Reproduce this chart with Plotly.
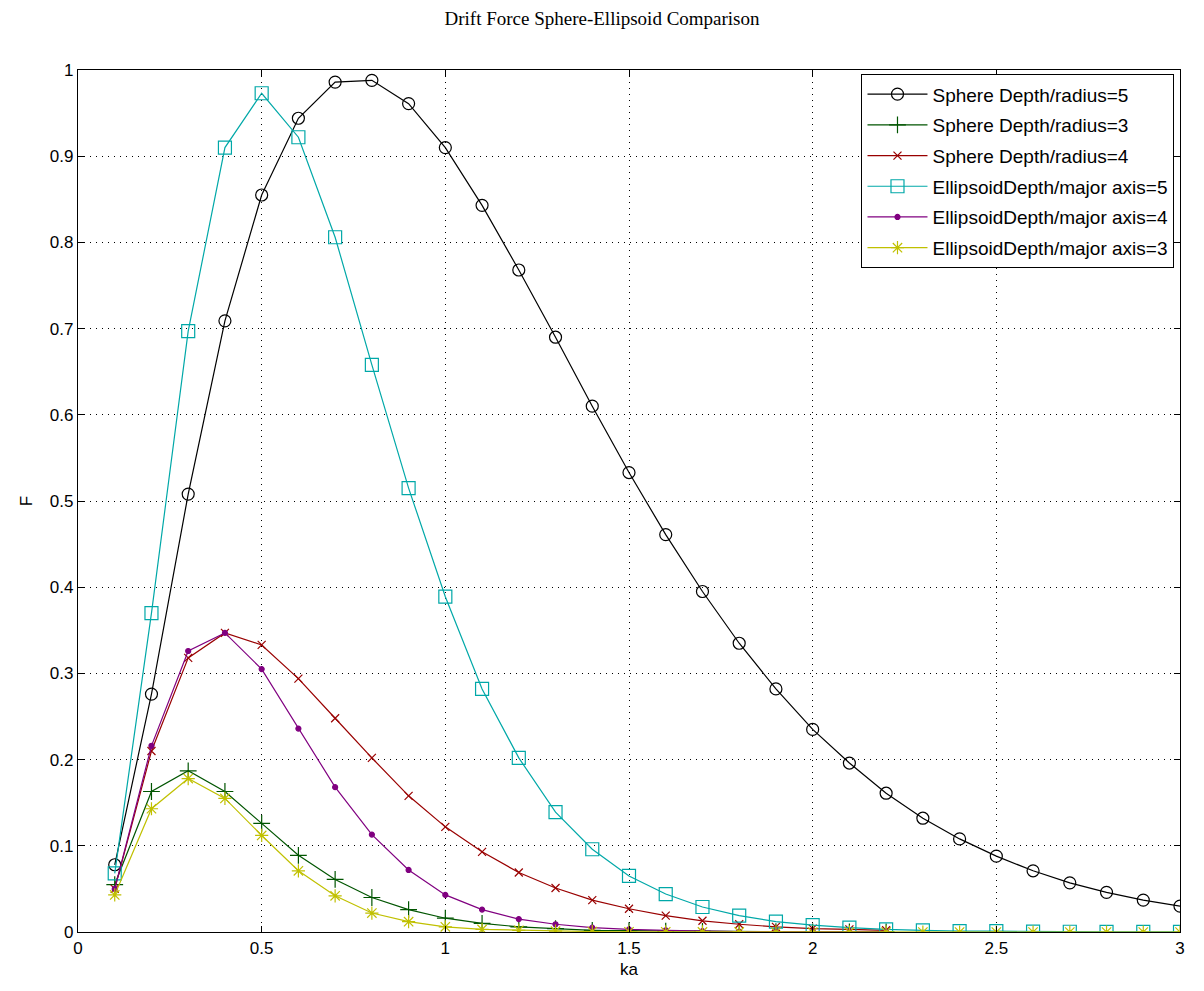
import plotly.graph_objects as go

ka = [round(0.1 * i, 1) for i in range(1, 31)]
ka_short = ka[:22]

sphere5 = [0.078, 0.276, 0.508, 0.709, 0.855, 0.944, 0.986, 0.988, 0.961, 0.910,
           0.843, 0.768, 0.690, 0.610, 0.533, 0.461, 0.395, 0.335, 0.282, 0.235,
           0.196, 0.161, 0.132, 0.108, 0.088, 0.071, 0.057, 0.046, 0.037, 0.030]
sphere3 = [0.055, 0.163, 0.187, 0.163, 0.126, 0.089, 0.061, 0.040, 0.026, 0.016,
           0.010, 0.006, 0.004, 0.002, 0.0015, 0.001, 0.0007, 0.0005, 0.0003, 0.0002,
           0.0001, 0.0001]
sphere4 = [0.050, 0.210, 0.318, 0.347, 0.333, 0.294, 0.248, 0.202, 0.158, 0.122,
           0.093, 0.069, 0.051, 0.037, 0.027, 0.019, 0.013, 0.009, 0.006, 0.004,
           0.003, 0.002]
ell5 = [0.068, 0.370, 0.697, 0.910, 0.973, 0.922, 0.806, 0.658, 0.515, 0.389,
        0.282, 0.202, 0.139, 0.096, 0.065, 0.044, 0.029, 0.019, 0.012, 0.008,
        0.005, 0.003, 0.002, 0.001, 0.001, 0.0005, 0.0003, 0.0002, 0.0001, 0.0001]
ell4 = [0.050, 0.216, 0.326, 0.347, 0.305, 0.236, 0.168, 0.113, 0.072, 0.043,
        0.026, 0.015, 0.009, 0.005, 0.003, 0.002, 0.001, 0.0006, 0.0004, 0.0002,
        0.0001, 0.0001]
ell3 = [0.043, 0.143, 0.178, 0.155, 0.112, 0.071, 0.042, 0.022, 0.012, 0.006,
        0.003, 0.002, 0.001, 0.0005, 0.0003, 0.0002, 0.0001, 0.0001, 0.0, 0.0,
        0.0, 0.0, 0.0, 0.0, 0.0, 0.0, 0.0, 0.0, 0.0, 0.0]

names = ["Sphere Depth/radius=5", "Sphere Depth/radius=3", "Sphere Depth/radius=4",
         "EllipsoidDepth/major axis=5", "EllipsoidDepth/major axis=4",
         "EllipsoidDepth/major axis=3"]

series = [
    (ka, sphere5, "#000000", "circle-open", 12),
    (ka_short, sphere3, "#005500", "cross-thin-open", 12),
    (ka_short, sphere4, "#990000", "x-thin-open", 8),
    (ka, ell5, "#00A8A8", "square-open", 13),
    (ka_short, ell4, "#800080", "circle", 5),
    (ka, ell3, "#C0C000", "asterisk-open", 11),
]

fig = go.Figure()
for i, ((x, y, c, sym, sz), nm) in enumerate(zip(series, names)):
    fig.add_trace(go.Scatter(
        x=x, y=y, name=nm, mode="lines+markers", legendgroup=f"g{i}",
        line=dict(color=c, width=1.2),
        marker=dict(symbol=sym, size=sz, color=c, line=dict(color=c, width=1.2)),
    ))

axis_common = dict(
    showline=True, linecolor="black", linewidth=1.2, mirror="ticks",
    ticks="inside", ticklen=6, tickcolor="black",
    showgrid=True, gridcolor="black", griddash="1px,5px", gridwidth=1,
    zeroline=False,
    tickfont=dict(family="Liberation Sans, Arial", size=17, color="black"),
)

fig.update_xaxes(range=[0, 3], dtick=0.5, tickformat="~g",
                 title=dict(text="ka", font=dict(family="Liberation Sans, Arial", size=17, color="black"), standoff=6),
                 **axis_common)
fig.update_yaxes(range=[0, 1], dtick=0.1, tickformat="~g",
                 title=dict(text="F", font=dict(family="Liberation Sans, Arial", size=17, color="black"), standoff=12),
                 **axis_common)

fig.update_layout(
    width=1204, height=991,
    margin=dict(l=78, r=24, t=70, b=59),
    paper_bgcolor="white", plot_bgcolor="white",
    title=dict(text="Drift Force Sphere-Ellipsoid Comparison", x=0.5, xanchor="center",
               y=0.988, yanchor="top",
               font=dict(family="Liberation Serif, Times New Roman", size=19, color="black")),
    legend=dict(x=0.995, y=0.995, xanchor="right", yanchor="top",
                bgcolor="white", bordercolor="black", borderwidth=1,
                font=dict(family="Liberation Sans, Arial", size=19, color="black"),
                tracegroupgap=3, itemwidth=60),
    showlegend=True,
)

fig.write_html("out.html")
